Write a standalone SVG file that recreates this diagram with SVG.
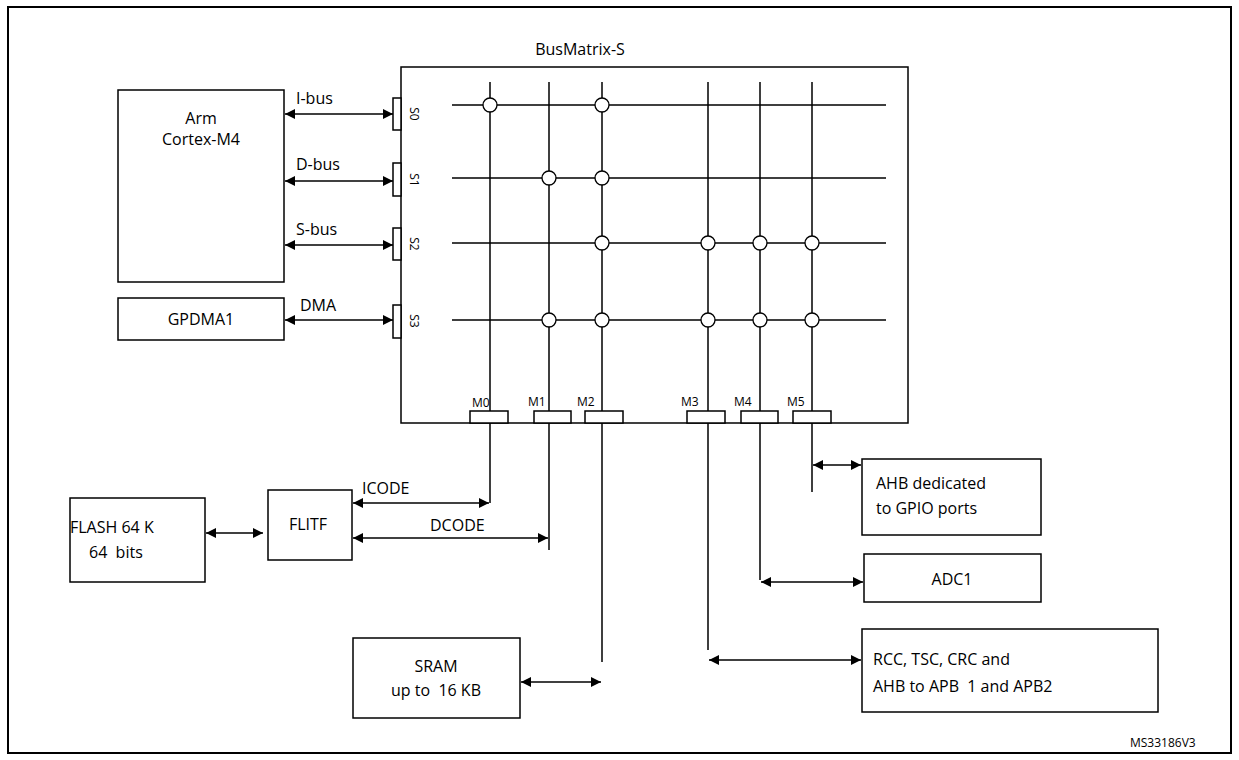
<svg xmlns="http://www.w3.org/2000/svg" width="1239" height="760" viewBox="0 0 1239 760">
<style>
.b{fill:#fff;stroke:#000;stroke-width:1.5}
.l{stroke:#000;stroke-width:1.5;fill:none}
.a{stroke:#000;stroke-width:1.3;fill:none;marker-start:url(#h);marker-end:url(#h)}
.c{fill:#fff;stroke:#000;stroke-width:1.3}
text{font-family:"Open Sans","Liberation Sans",sans-serif;font-size:16px;fill:#000}
.s{font-size:12px}
.m{text-anchor:middle}
</style>
<defs><marker id="h" viewBox="0 0 10 10" refX="10" refY="5" markerWidth="10" markerHeight="10" markerUnits="userSpaceOnUse" orient="auto-start-reverse"><path d="M0,0L10,5L0,10z"/></marker></defs>
<rect x="8" y="7" width="1223" height="746" fill="#fff" stroke="#000" stroke-width="2"/>
<g id="arm"><rect class="b" x="118" y="90" width="166" height="192"/><text class="m" x="201" y="124">Arm</text><text class="m" x="201" y="145">Cortex-M4</text></g>
<g id="gpdma"><rect class="b" x="118" y="298" width="166" height="42"/><text class="m" x="201" y="325">GPDMA1</text></g>
<g id="busmatrix"><rect class="b" x="401" y="67" width="507" height="356"/><text class="m" x="580" y="55">BusMatrix-S</text>
<g class="l"><path d="M452 105H886M452 178H886M452 243H886M452 320H886M490 82V411M549 82V411M602 82V411M708 82V411M760 82V411M812 82V411"/></g>
<g><circle class="c" cx="490" cy="105" r="7"/><circle class="c" cx="602" cy="105" r="7"/><circle class="c" cx="549" cy="178" r="7"/><circle class="c" cx="602" cy="178" r="7"/><circle class="c" cx="602" cy="243" r="7"/><circle class="c" cx="708" cy="243" r="7"/><circle class="c" cx="760" cy="243" r="7"/><circle class="c" cx="812" cy="243" r="7"/><circle class="c" cx="549" cy="320" r="7"/><circle class="c" cx="602" cy="320" r="7"/><circle class="c" cx="708" cy="320" r="7"/><circle class="c" cx="760" cy="320" r="7"/><circle class="c" cx="812" cy="320" r="7"/></g>
<g><rect class="b" x="393" y="98" width="8" height="32"/><rect class="b" x="393" y="163" width="8" height="33"/><rect class="b" x="393" y="228" width="8" height="32"/><rect class="b" x="393" y="305" width="8" height="33"/>
<text class="s m" transform="translate(410,114) rotate(90)">S0</text><text class="s m" transform="translate(410,180) rotate(90)">S1</text><text class="s m" transform="translate(410,244) rotate(90)">S2</text><text class="s m" transform="translate(410,321) rotate(90)">S3</text></g>
<g><rect class="b" x="470" y="411" width="38" height="12"/><rect class="b" x="534" y="411" width="37" height="12"/><rect class="b" x="585" y="411" width="38" height="12"/><rect class="b" x="687" y="411" width="38" height="12"/><rect class="b" x="741" y="411" width="37" height="12"/><rect class="b" x="793" y="411" width="38" height="12"/>
<text class="s" x="472" y="407">M0</text><text class="s" x="528" y="406">M1</text><text class="s" x="577" y="406">M2</text><text class="s" x="681" y="406">M3</text><text class="s" x="734" y="406">M4</text><text class="s" x="787" y="406">M5</text></g>
</g>
<g id="flash"><rect class="b" x="70" y="498" width="135" height="84"/><text x="70" y="533">FLASH 64 K</text><text x="89" y="558" xml:space="preserve">64  bits</text></g>
<g id="flitf"><rect class="b" x="268" y="490" width="84" height="70"/><text class="m" x="308" y="530">FLITF</text></g>
<g id="sram"><rect class="b" x="353" y="638" width="167" height="80"/><text class="m" x="436" y="672">SRAM</text><text class="m" x="436" y="696" xml:space="preserve">up to  16 KB</text></g>
<g id="gpio"><rect class="b" x="862" y="459" width="179" height="76"/><text x="876" y="489">AHB dedicated</text><text x="876" y="514">to GPIO ports</text></g>
<g id="adc"><rect class="b" x="864" y="554" width="177" height="48"/><text class="m" x="952" y="585">ADC1</text></g>
<g id="rcc"><rect class="b" x="862" y="629" width="296" height="83"/><text x="873" y="665">RCC, TSC, CRC and</text><text x="873" y="692" xml:space="preserve">AHB to APB  1 and APB2</text></g>
<g id="connectors">
<path class="l" d="M490 423V503M549 423V550M602 423V662M708 423V650M760 423V580M812 423V492"/>
<line class="a" x1="285" y1="114" x2="393" y2="114"/>
<line class="a" x1="285" y1="181" x2="393" y2="181"/>
<line class="a" x1="285" y1="245" x2="393" y2="245"/>
<line class="a" x1="285" y1="320" x2="393" y2="320"/>
<line class="a" x1="206" y1="533" x2="263" y2="533"/>
<line class="a" x1="353" y1="503" x2="489" y2="503"/>
<line class="a" x1="353" y1="538" x2="548" y2="538"/>
<line class="a" x1="521" y1="682" x2="601" y2="682"/>
<line class="a" x1="813" y1="465" x2="861" y2="465"/>
<line class="a" x1="761" y1="582" x2="863" y2="582"/>
<line class="a" x1="709" y1="660" x2="861" y2="660"/>
<text x="296" y="104">I-bus</text><text x="296" y="170">D-bus</text><text x="296" y="235">S-bus</text><text x="300" y="311">DMA</text>
<text x="362" y="494">ICODE</text><text x="430" y="531">DCODE</text>
</g>
<text class="s" x="1130" y="747">MS33186V3</text>
</svg>
